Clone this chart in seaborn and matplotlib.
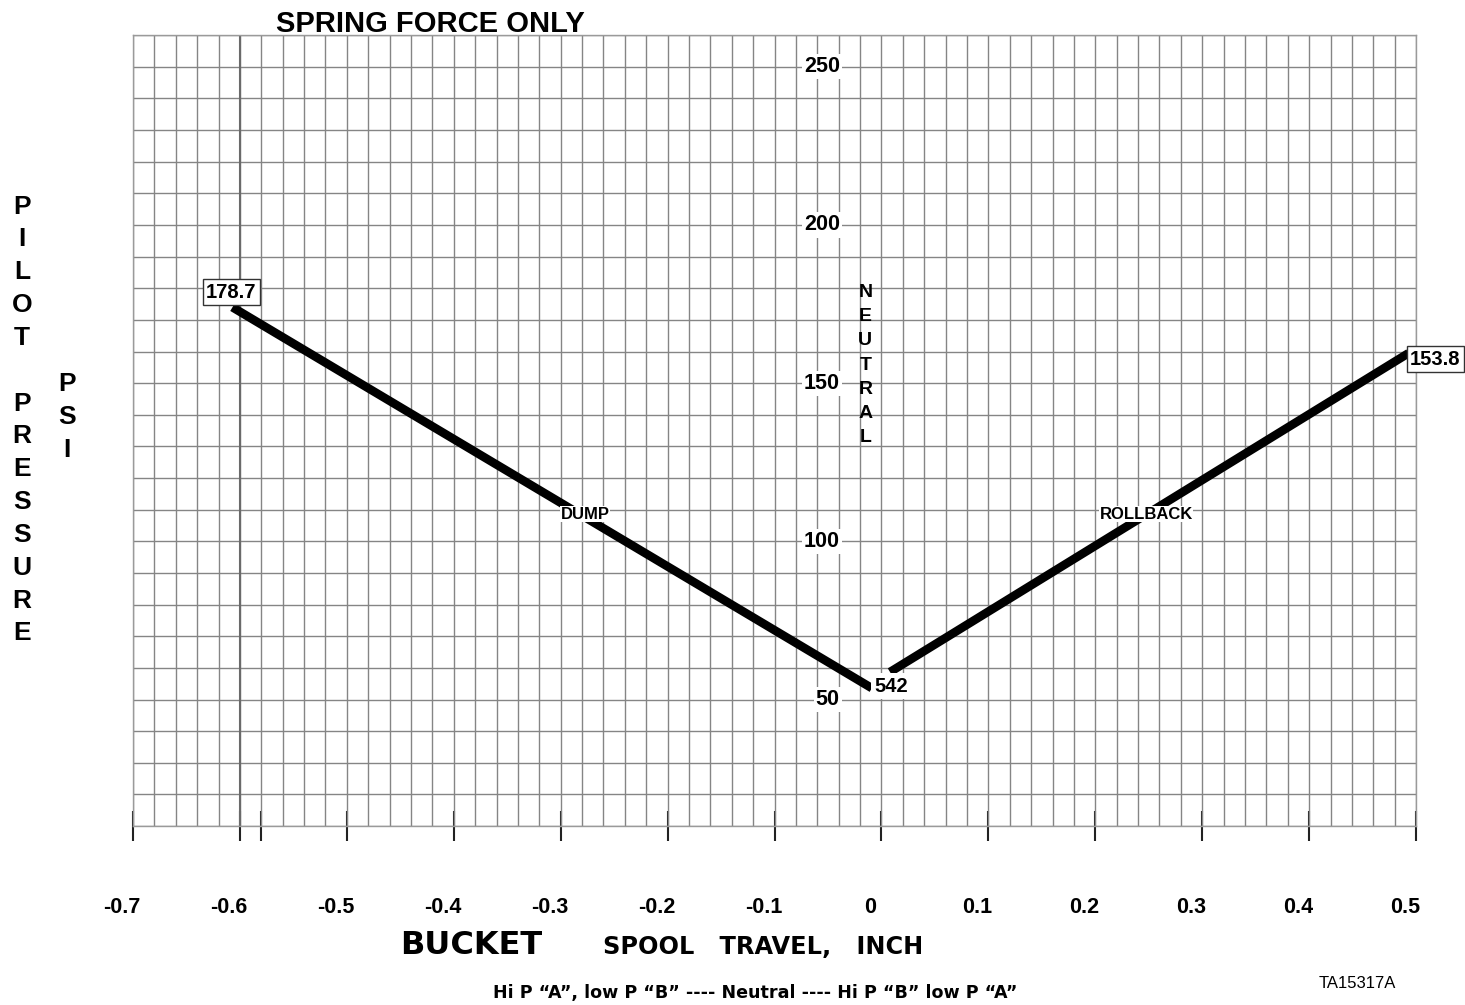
import numpy as np
import pandas as pd
import seaborn as sns
import matplotlib.pyplot as plt
from matplotlib.transforms import ScaledTranslation

# values
dump_x = [-0.607, -0.009]
dump_y = [174.0, 53.6]
rollback_x = [0.008, 0.493]
rollback_y = [58.7, 159.5]

point_labels = ["178.7", "542", "153.8"]
point_x = [-0.608, 0.009, 0.518]
point_y = [178.7, 54.2, 157.6]

x_ticks = [-0.7, -0.6, -0.58, -0.5, -0.4, -0.3, -0.2, -0.1, 0, 0.1, 0.2, 0.3, 0.4, 0.5]
x_tick_labels = ["-0.7", "-0.6", "", "-0.5", "-0.4", "-0.3", "-0.2", "-0.1", "0",
                 "0.1", "0.2", "0.3", "0.4", "0.5"]
y_tick_values = [250, 200, 150, 100, 50]

arial = ["Liberation Sans", "DejaVu Sans"]

sns.set_style("white")
plt.rcParams["font.family"] = arial
plt.rcParams["text.color"] = "black"
plt.rcParams["xtick.color"] = "black"

fig = plt.figure(figsize=(14.65, 10.05), dpi=100)
ax = fig.add_axes([0.0908, 0.178, 0.8758, 0.787])

df = pd.concat([
    pd.DataFrame({"travel": dump_x, "psi": dump_y, "seg": "DUMP"}),
    pd.DataFrame({"travel": rollback_x, "psi": rollback_y, "seg": "ROLLBACK"}),
])
sns.lineplot(data=df, x="travel", y="psi", units="seg", estimator=None,
             color="black", lw=6.2, solid_capstyle="butt", ax=ax, zorder=3)

ax.set_xlim(-0.7, 0.5)
ax.set_ylim(10, 260)

# graph paper
for gx in np.arange(-0.7, 0.5001, 0.02):
    ax.axvline(gx, color="#858585", lw=1.0, zorder=1)
for gy in np.arange(10, 260.1, 10):
    ax.axhline(gy, color="#858585", lw=1.0, zorder=1)
ax.axvline(-0.6, color="#6a6a6a", lw=1.5, zorder=1)
for s in ax.spines.values():
    s.set_color("#9a9a9a")
    s.set_linewidth(1.0)

ax.set_xticks(x_ticks)
ax.set_xticklabels(x_tick_labels, family=arial, fontweight="bold", fontsize=15.5)
ax.tick_params(axis="x", bottom=True, direction="inout", length=22, width=1.5,
               color="#222222", pad=40)
ax.set_yticks([])
shift = ScaledTranslation(-11 / 100, 0, fig.dpi_scale_trans)
for lbl in ax.get_xticklabels():
    lbl.set_transform(lbl.get_transform() + shift)
ax.set_xlabel("")
ax.set_ylabel("")

for v in y_tick_values:
    ax.text(-0.039, v, str(v), ha="right", va="center", family=arial,
            fontweight="bold", fontsize=15.5, zorder=4,
            bbox=dict(facecolor="white", edgecolor="none", pad=1.5))

for lab, px, py in zip(point_labels, point_x, point_y):
    edge = "none" if lab == "542" else "#333333"
    ax.text(px, py, lab, ha="center", va="center", family=arial,
            fontweight="bold", fontsize=14.5, zorder=5, clip_on=False,
            bbox=dict(facecolor="white", edgecolor=edge, lw=1.0, pad=2.5))

ax.text(-0.277, 108.6, "DUMP", ha="center", va="center", family=arial,
        fontweight="bold", fontsize=12, zorder=5,
        bbox=dict(facecolor="white", edgecolor="none", pad=0.5))
ax.text(0.2476, 108.6, "ROLLBACK", ha="center", va="center", family=arial,
        fontweight="bold", fontsize=12, zorder=5,
        bbox=dict(facecolor="white", edgecolor="none", pad=0.5))
ax.text(-0.015, 155.7, "\n".join("NEUTRAL"), ha="center", va="center",
        family=arial, fontweight="bold", fontsize=14, linespacing=1.56, zorder=5)

fig.text(0.2935, 0.976, "SPRING FORCE ONLY", ha="center", va="center",
         family=arial, fontweight="bold", fontsize=21)
fig.text(22 / 1465, 1 - 420 / 1005, "\n".join("PILOT PRESSURE").replace(" ", ""),
         ha="center", va="center", family=arial, fontweight="bold",
         fontsize=19, linespacing=1.465)
fig.text(67 / 1465, 1 - 417 / 1005, "\n".join("PSI"), ha="center", va="center",
         family=arial, fontweight="bold", fontsize=19, linespacing=1.45)

fig.text(400 / 1465, 1 - 945 / 1005, "BUCKET", ha="left", va="center",
         family="DejaVu Sans", fontweight="bold", fontsize=23)
fig.text(603 / 1465, 1 - 947 / 1005, "SPOOL   TRAVEL,   INCH", ha="left", va="center",
         family="DejaVu Sans", fontweight="bold", fontsize=17.3)
fig.text(755 / 1465, 1 - 993 / 1005,
         "Hi P \u201cA\u201d, low P \u201cB\u201d ---- Neutral ---- Hi P \u201cB\u201d low P \u201cA\u201d",
         ha="center", va="center", family="DejaVu Sans", fontweight="bold", fontsize=12.6)
fig.text(1357 / 1465, 1 - 983 / 1005, "TA15317A", ha="center", va="center",
         family=arial, fontsize=12)

fig.savefig("out.png", dpi=100, facecolor="white")
